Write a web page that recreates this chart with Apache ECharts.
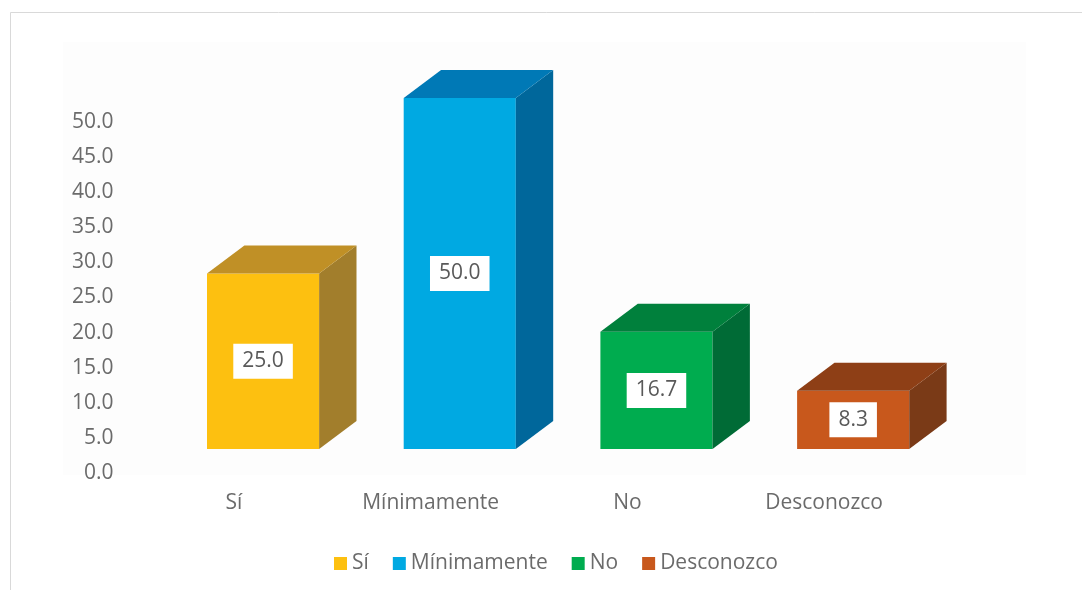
<!DOCTYPE html>
<html>
<head>
<meta charset="utf-8">
<script src="https://cdn.jsdelivr.net/npm/echarts@6/dist/echarts.min.js"></script>
<style>
  html, body { margin: 0; padding: 0; background: #fff; }
  #chart { width: 1082px; height: 590px; }
</style>
</head>
<body>
<div id="chart"></div>
<script>
const categories = ['Sí', 'Mínimamente', 'No', 'Desconozco']
const values = [25.0, 50.0, 16.7, 8.3]
const yTicks = { min: 0, max: 50, interval: 5 }

// front / top / side shades for each box
const frontColors = ['#FDC010', '#00A9E2', '#00AC4F', '#C8581C']
const topColors = ['#C09026', '#0079B6', '#00803C', '#8E3F16']
const sideColors = ['#A27E2C', '#00679B', '#006B36', '#7A3A17']

const textColor = '#6b6b6b'
const fontFamily = '"Open Sans", sans-serif'

const chart = echarts.init(document.getElementById('chart'))

const renderBox = (params, api) => {
  const i = api.value(0)
  const v = api.value(1)
  const band = api.size([1, 0])[0]
  const base = api.coord([i, 0])
  const top = api.coord([i, v])
  const lift = 24
  const dx = band * 0.19
  const dy = 28
  const fx = base[0] - band * 0.137
  const fw = band * 0.57
  const yb = base[1] - lift
  const yt = top[1] - lift
  const s = params.seriesIndex
  return {
    type: 'group',
    children: [
      {
        type: 'rect',
        shape: { x: fx, y: yt, width: fw, height: yb - yt },
        style: { fill: frontColors[s] },
      },
      {
        type: 'polygon',
        shape: { points: [[fx + fw, yt], [fx + fw + dx, yt - dy], [fx + fw + dx, yb - dy], [fx + fw, yb]] },
        style: { fill: sideColors[s] },
      },
      {
        type: 'polygon',
        shape: { points: [[fx, yt], [fx + dx, yt - dy], [fx + fw + dx, yt - dy], [fx + fw, yt]] },
        style: { fill: topColors[s] },
      },
      {
        type: 'text',
        x: fx + fw / 2,
        y: (yt + yb) / 2,
        style: {
          text: v.toFixed(1),
          align: 'center',
          verticalAlign: 'middle',
          fill: '#595959',
          font: '21px ' + fontFamily,
          backgroundColor: '#fff',
          padding: [7, 9, 7, 9],
        },
      },
    ],
  }
}

const series = categories.map((name, i) => ({
  name,
  type: 'custom',
  clip: false,
  itemStyle: { color: frontColors[i] },
  renderItem: renderBox,
  encode: { x: 0, y: 1 },
  data: [[i, values[i]]],
}))

chart.setOption({
  animation: false,
  color: frontColors,
  graphic: [
    {
      type: 'rect',
      z: -10,
      shape: { x: 10.5, y: 12.5, width: 1100, height: 600 },
      style: { fill: '#fff', stroke: '#d9d9d9', lineWidth: 1 },
    },
    {
      type: 'rect',
      z: -9,
      shape: { x: 63, y: 42, width: 963, height: 433 },
      style: { fill: '#fdfdfd' },
    },
  ],
  grid: {
    left: 135.6,
    right: 159.6,
    top: 122,
    bottom: 117,
  },
  legend: {
    left: 334,
    top: 553,
    padding: 0,
    icon: 'rect',
    itemWidth: 13,
    itemHeight: 13,
    itemGap: 24,
    textStyle: { color: textColor, fontSize: 21, fontFamily },
    data: categories,
  },
  xAxis: {
    type: 'category',
    data: categories,
    axisLine: { show: false },
    axisTick: { show: false },
    axisLabel: { color: textColor, fontSize: 21, fontFamily, margin: 20 },
  },
  yAxis: {
    type: 'value',
    min: yTicks.min,
    max: yTicks.max,
    interval: yTicks.interval,
    splitLine: { show: false },
    axisLine: { show: false },
    axisTick: { show: false },
    axisLabel: {
      color: textColor,
      fontSize: 21,
      fontFamily,
      margin: 22,
      formatter: val => val.toFixed(1),
    },
  },
  series,
})
</script>
</body>
</html>
